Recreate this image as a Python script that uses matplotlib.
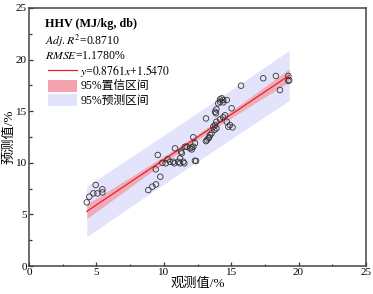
import numpy as np
import matplotlib.pyplot as plt
from matplotlib.lines import Line2D
from matplotlib.patches import Patch

plt.rcParams['font.family'] = ['Liberation Serif', 'Noto Sans CJK SC']
plt.rcParams['mathtext.fontset'] = 'stix'

observed = [4.28, 4.47, 4.77, 4.94, 5.07, 5.44, 5.44,
            8.85, 9.15, 9.42, 9.74, 9.40, 9.55, 9.89, 10.14, 10.46, 10.78,
            11.20, 11.52, 10.83, 11.20, 11.33, 11.70, 10.29, 10.70, 11.08,
            11.45, 11.28, 11.57, 11.94, 12.07, 12.19, 12.31, 12.19, 12.39,
            13.20, 13.37, 13.55, 13.75, 13.90, 13.80, 13.13, 13.30, 13.43,
            13.67, 13.13, 13.90, 14.17, 14.41, 14.54, 14.67, 14.91, 15.10,
            15.03, 14.79, 14.17, 14.30, 14.41, 14.67, 14.17, 14.04, 14.41,
            13.90, 13.87, 13.80, 15.73, 17.38, 18.32, 18.62, 19.24, 19.24,
            19.31, 12.31, 12.07]
predicted = [6.17, 6.72, 7.04, 7.85, 7.04, 7.43, 7.14,
             7.36, 7.69, 7.91, 8.65, 9.37, 10.76, 10.00, 9.95, 10.10, 9.95,
             9.95, 9.95, 11.40, 10.43, 10.92, 11.56, 10.34, 10.10, 10.10,
             10.10, 11.08, 11.56, 11.40, 11.30, 11.56, 11.90, 12.47, 10.17,
             12.20, 12.47, 12.86, 13.18, 13.34, 13.66, 12.10, 12.37, 12.69,
             13.50, 14.30, 13.98, 14.20, 14.40, 14.60, 13.98, 13.66, 13.44,
             15.28, 13.50, 16.15, 16.25, 16.08, 16.08, 15.92, 15.76, 15.86,
             15.18, 14.80, 14.95, 17.47, 18.19, 18.41, 17.05, 18.41, 17.93,
             18.00, 10.20, 11.50]

slope = 0.8761
intercept = 1.5470
adj_r2 = 0.8710
rmse = 1.1780

x = np.array(observed)
y = np.array(predicted)
n = len(x)
xs = np.linspace(x.min(), x.max(), 200)
fit = slope * xs + intercept
sxx = np.sum((x - x.mean()) ** 2)
t = 1.993
conf = t * rmse * np.sqrt(1 / n + (xs - x.mean()) ** 2 / sxx)
pred = t * rmse * np.sqrt(1 + 1 / n + (xs - x.mean()) ** 2 / sxx)

fig = plt.figure(figsize=(3.73, 2.94), dpi=100)
ax = fig.add_axes([0.078, 0.095, 0.903, 0.878])

ax.fill_between(xs, fit - pred, fit + pred, color='#e3e3fb', lw=0, zorder=1)
ax.fill_between(xs, fit - conf, fit + conf, color='#f2a3ad', alpha=0.85, lw=0, zorder=2)
ax.plot(xs, fit, color='#e8202c', lw=0.9, zorder=3)
ax.scatter(x, y, s=16, facecolors='none', edgecolors='#333333', linewidths=0.6, zorder=4)

ax.set_xlim(0, 25)
ax.set_ylim(0, 25)
ax.set_xticks([0, 5, 10, 15, 20, 25])
ax.set_yticks([0, 5, 10, 15, 20, 25])
ax.set_xticks([2.5, 7.5, 12.5, 17.5, 22.5], minor=True)
ax.set_yticks([2.5, 7.5, 12.5, 17.5, 22.5], minor=True)
ax.tick_params(which='both', direction='in', labelsize=8, width=0.9, color='#333333', pad=1.5)
ax.tick_params(which='major', length=3)
ax.tick_params(which='minor', length=1.8)
for sp in ax.spines.values():
    sp.set_linewidth(1.1)
    sp.set_color('#444444')

ax.set_xlabel('观测值/%', fontsize=9.5, labelpad=0)
ax.set_ylabel('预测值/%', fontsize=9.5, labelpad=0)

ax.text(0.046, 0.936, 'HHV (MJ/kg, db)', transform=ax.transAxes, fontsize=8.7,
        fontweight='bold', va='center')
ax.text(0.046, 0.874, r'$\mathit{Adj.R}^2$' + f'={adj_r2:.4f}', transform=ax.transAxes,
        fontsize=8.5, va='center')
ax.text(0.046, 0.814, r'$\mathit{RMSE}$' + f'={rmse:.4f}%', transform=ax.transAxes,
        fontsize=8.5, va='center')

handles = [Line2D([], [], color='#e8202c', lw=0.9),
           Patch(facecolor='#f2a3ad', edgecolor='none'),
           Patch(facecolor='#e3e3fb', edgecolor='none')]
labels = [r'$\mathit{y}$=' + r'$\mathit{' + f'{slope:.4f}x' + r'}$+'
          + r'$\mathit{' + f'{intercept:.4f}' + r'}$',
          '95%置信区间', '95%预测区间']
ax.legend(handles, labels, loc='upper left', bbox_to_anchor=(0.036, 0.814),
          frameon=False, fontsize=8.5, handlelength=2.4, handleheight=1.2,
          handletextpad=0.3, labelspacing=0.08, borderpad=0.1)

fig.savefig('out.png', dpi=100)
